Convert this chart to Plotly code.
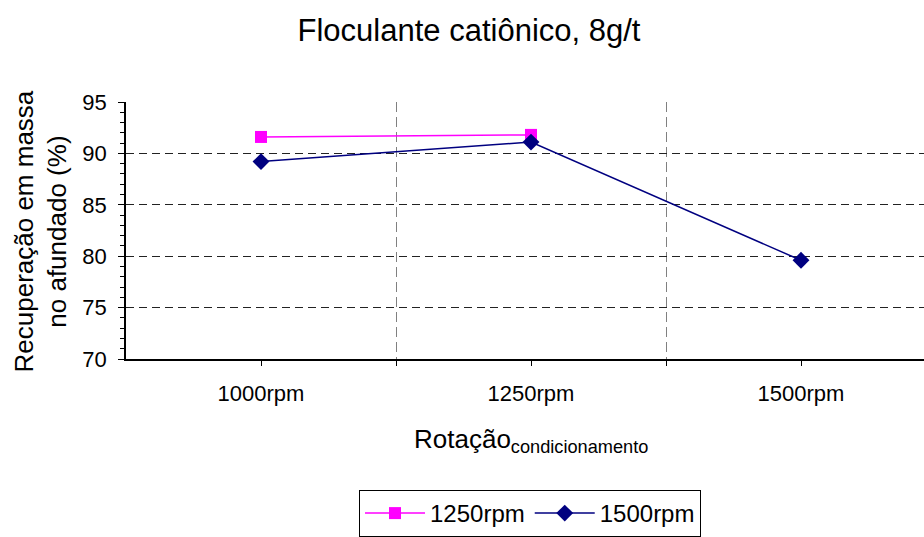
import plotly.graph_objects as go

# Conditioning speeds on the x axis
categories = ["1000rpm", "1250rpm", "1500rpm"]
x_pos = [0, 1, 2]

# Mass recovery in the sink product (%) for each stirring speed
rec_1250 = [91.6, 91.8]
rec_1500 = [89.2, 91.1, 79.6]

y_ticks = [70, 75, 80, 85, 90, 95]

FONT = "Liberation Sans, Arial, sans-serif"

fig = go.Figure()
fig.add_trace(go.Scatter(
    x=x_pos[:len(rec_1250)], y=rec_1250, name="1250rpm", mode="lines+markers",
    line=dict(color="#FF00FF", width=1.5),
    marker=dict(symbol="square", size=12, color="#FF00FF"),
))
fig.add_trace(go.Scatter(
    x=x_pos, y=rec_1500, name="1500rpm", mode="lines+markers",
    line=dict(color="#000080", width=1.5),
    marker=dict(symbol="diamond", size=13, color="#000080"),
))

L, R, T, B = 126, 0, 102, 175
W, H = 924, 537
plot_w = W - L - R

fig.update_layout(
    width=W, height=H,
    margin=dict(l=L, r=R, t=T, b=B, pad=0),
    paper_bgcolor="white", plot_bgcolor="white",
    font=dict(family=FONT, color="black"),
    showlegend=True,
    title=dict(
        text="Floculante catiônico, 8g/t",
        font=dict(size=31, family=FONT, color="black"),
        xref="container", yref="container",
        x=469 / W, y=1 - 30 / H, xanchor="center", yanchor="middle",
    ),
    legend=dict(
        orientation="h",
        xref="paper", yref="paper",
        x=(530 - L) / plot_w, y=(362 - 495) / 260,
        xanchor="center", yanchor="top",
        bordercolor="black", borderwidth=1,
        font=dict(size=24, family=FONT, color="black"),
        bgcolor="white",
        itemwidth=60,
    ),
    xaxis=dict(
        range=[-0.5, -0.5 + plot_w / 270.0],
        tickmode="array", tickvals=x_pos, ticktext=categories,
        ticks="outside", ticklen=5, tickcolor="black", tickwidth=1,
        tickfont=dict(size=22, family=FONT, color="black"),
        ticklabelstandoff=9,
        showgrid=False, zeroline=False,
        showline=True, linecolor="black", linewidth=2,
        minor=dict(
            tickmode="array", tickvals=[0.5, 1.5],
            ticks="outside", ticklen=5, tickcolor="black", tickwidth=1,
            showgrid=True, gridcolor="#808080", gridwidth=1.4,
            griddash="10px,5px",
        ),
        fixedrange=True,
    ),
    yaxis=dict(
        range=[70, 95],
        tickmode="array", tickvals=y_ticks,
        ticks="outside", ticklen=6, tickcolor="black", tickwidth=1,
        tickfont=dict(size=22, family=FONT, color="black"),
        ticklabelstandoff=7,
        showgrid=True, gridcolor="#222222", gridwidth=1,
        griddash="8px,5px",
        zeroline=False,
        showline=True, linecolor="black", linewidth=1.5,
        minor=dict(dtick=1, ticks="outside", ticklen=4,
                   tickcolor="black", tickwidth=1, showgrid=False),
        fixedrange=True,
    ),
)

# Two-line y-axis title
fig.add_annotation(
    text="Recuperação em massa<br>no afundado (%)",
    textangle=-90,
    xref="paper", yref="paper",
    x=(41 - L) / plot_w, y=(362 - 233) / 260,
    xanchor="center", yanchor="middle",
    showarrow=False,
    font=dict(size=26, family=FONT, color="black"),
)

# X-axis title with subscript
fig.add_annotation(
    text="Rotação<sub>condicionamento</sub>",
    xref="paper", yref="paper",
    x=(531 - L) / plot_w, y=(362 - 444) / 260,
    xanchor="center", yanchor="middle",
    showarrow=False,
    font=dict(size=26, family=FONT, color="black"),
)

fig.write_html("out.html")
